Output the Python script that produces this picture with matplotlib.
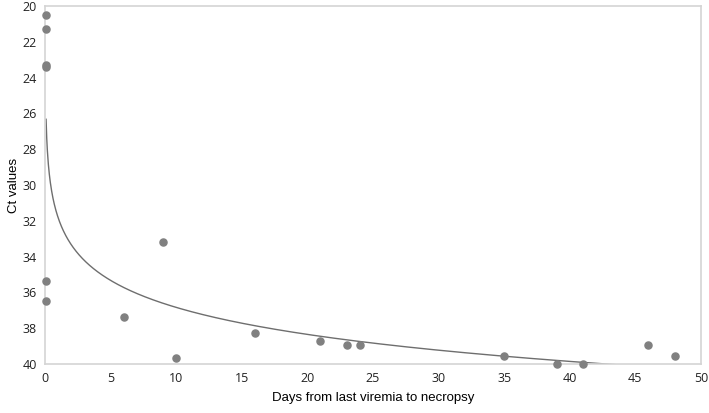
import matplotlib
matplotlib.use("Agg")
import matplotlib.pyplot as plt
import numpy as np

# data
days = [0.1, 0.1, 0.1, 0.1, 0.1, 0.1, 6, 9, 10, 16, 21, 23, 24, 35, 39, 41, 46, 48]
ct_values = [20.5, 21.3, 23.3, 23.4, 35.35, 36.5, 37.4, 33.2, 39.65, 38.25, 38.7,
             38.95, 38.95, 39.55, 40.0, 40.0, 38.95, 39.55]

x_ticks = [0, 5, 10, 15, 20, 25, 30, 35, 40, 45, 50]
y_ticks = [20, 22, 24, 26, 28, 30, 32, 34, 36, 38, 40]

# logarithmic trendline fitted to the points
slope, intercept = np.polyfit(np.log(days), ct_values, 1)
x_fit = np.linspace(0.08, 50, 2000)
y_fit = slope * np.log(x_fit) + intercept

fig = plt.figure(figsize=(7.09, 4.13), dpi=100)
ax = fig.add_axes([0.0635, 0.119, 0.925, 0.866])

ax.plot(x_fit, y_fit, color="#6e6e6e", lw=1.0, zorder=2)
ax.scatter(days, ct_values, s=26, color="#808080", zorder=3, clip_on=False)

ax.set_xlim(0, 50)
ax.set_ylim(40, 20)
ax.set_xticks(x_ticks)
ax.set_yticks(y_ticks)
ax.tick_params(length=0, pad=6, labelsize=9, labelcolor="#222222")
for lab in ax.get_xticklabels() + ax.get_yticklabels():
    lab.set_fontfamily("Open Sans")

for sp in ax.spines.values():
    sp.set_color("#d4d4d4")
    sp.set_linewidth(1.2)

ax.set_xlabel("Days from last viremia to necropsy", fontsize=9.5,
              family="Liberation Sans", labelpad=5)
ax.set_ylabel("Ct values", fontsize=9.5, family="Liberation Sans", labelpad=2)

fig.savefig("out.png", dpi=100)
